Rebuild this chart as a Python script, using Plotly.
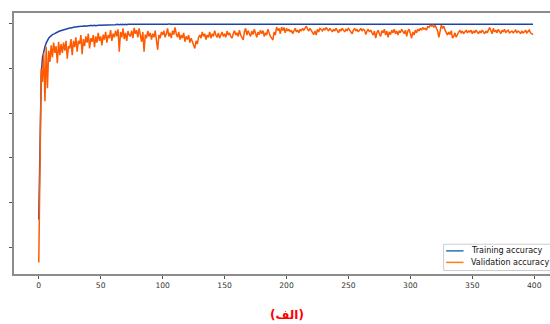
import plotly.graph_objects as go

epochs = list(range(400))

training_accuracy = [
    0.562, 0.790, 0.886, 0.925, 0.940, 0.949, 0.957, 0.963, 0.968, 0.971,
    0.974, 0.976, 0.977, 0.979, 0.980, 0.982, 0.983, 0.984, 0.985, 0.986,
    0.987, 0.988, 0.989, 0.990, 0.990, 0.991, 0.991, 0.992, 0.992, 0.993,
    0.993, 0.994, 0.994, 0.994, 0.995, 0.995, 0.995, 0.996, 0.995, 0.996,
    0.996, 0.996, 0.997, 0.996, 0.997, 0.997, 0.996, 0.997, 0.997, 0.997,
    0.997, 0.998, 0.997, 0.998, 0.997, 0.998, 0.998, 0.997, 0.998, 0.998,
    0.998, 0.998, 0.998, 0.999, 0.998, 0.998, 0.999, 0.998, 0.999, 0.998,
    0.999, 0.998, 0.999, 0.999, 0.998, 0.999, 0.999, 0.998, 0.999, 0.999,
    0.999, 0.999, 0.998, 0.999, 0.999, 0.999, 0.999, 0.998, 0.999, 0.999,
    0.999, 0.999, 0.999, 0.999, 0.998, 0.999, 0.999, 0.999, 0.999, 0.999,
    0.999, 0.999, 0.999, 0.999, 0.999, 1.000, 0.999, 0.999, 0.999, 0.999,
    0.999, 0.999, 0.999, 1.000, 0.999, 0.999, 0.999, 0.999, 0.999, 0.999,
    0.999, 0.999, 0.999, 0.999, 0.999, 0.999, 1.000, 0.999, 0.999, 0.999,
    0.999, 0.999, 0.999, 0.999, 0.999, 0.999, 0.999, 0.999, 1.000, 0.999,
    0.999, 0.999, 0.999, 0.999, 0.999, 0.999, 0.999, 0.999, 0.999, 0.999,
    0.999, 1.000, 0.999, 0.999, 0.999, 0.999, 0.999, 0.999, 0.999, 0.999,
    0.999, 0.999, 0.999, 0.999, 0.999, 1.000, 0.999, 0.999, 0.999, 0.999,
    0.999, 0.999, 0.999, 0.999, 0.999, 0.999, 0.999, 0.999, 0.999, 1.000,
    0.999, 0.999, 0.999, 0.999, 0.999, 0.999, 0.999, 0.999, 0.999, 0.999,
    1.000, 0.999, 0.999, 0.999, 0.999, 0.999, 0.999, 0.999, 0.999, 0.999,
    0.999, 0.999, 0.999, 1.000, 0.999, 0.999, 0.999, 0.999, 0.999, 0.999,
    0.999, 0.999, 0.999, 0.999, 0.999, 0.999, 1.000, 0.999, 0.999, 0.999,
    0.999, 0.999, 0.999, 0.999, 0.999, 0.999, 0.999, 0.999, 0.999, 1.000,
    0.999, 0.999, 0.999, 0.999, 0.999, 0.999, 0.999, 0.999, 0.999, 0.999,
    0.999, 1.000, 0.999, 0.999, 0.999, 0.999, 0.999, 0.999, 0.999, 0.999,
    0.999, 0.999, 0.999, 0.999, 1.000, 0.999, 0.999, 0.999, 0.999, 0.999,
    0.999, 0.999, 0.999, 0.999, 0.999, 0.999, 0.999, 1.000, 0.999, 0.999,
    0.999, 0.999, 0.999, 0.999, 0.999, 0.999, 0.999, 0.999, 0.999, 0.999,
    1.000, 0.999, 0.999, 0.999, 0.999, 0.999, 0.999, 0.999, 0.999, 0.999,
    0.999, 0.999, 0.999, 1.000, 0.999, 0.999, 0.999, 0.999, 0.999, 0.999,
    0.999, 0.999, 0.999, 0.999, 0.999, 0.999, 1.000, 0.999, 0.999, 0.999,
    0.999, 0.999, 0.999, 0.999, 0.999, 0.999, 0.999, 0.999, 0.999, 1.000,
    0.999, 0.999, 0.999, 0.999, 0.999, 0.999, 0.999, 0.999, 0.999, 0.999,
    0.999, 1.000, 0.999, 0.999, 0.999, 0.999, 0.999, 0.999, 0.999, 0.999,
    0.999, 0.999, 0.999, 0.999, 1.000, 0.999, 0.999, 0.999, 0.999, 0.999,
    0.999, 0.999, 0.999, 0.999, 0.999, 0.999, 0.999, 1.000, 0.999, 0.999,
    0.999, 0.999, 0.999, 0.999, 0.999, 0.999, 0.999, 0.999, 0.999, 0.999,
    1.000, 0.999, 0.999, 0.999, 0.999, 0.999, 0.999, 0.999, 0.999, 0.999,
    0.999, 0.999, 0.999, 1.000, 0.999, 0.999, 0.999, 0.999, 0.999, 0.999,
    0.999, 0.999, 0.999, 0.999, 0.999, 0.999, 1.000, 0.999, 0.999, 0.999,
]

validation_accuracy = [
    0.466, 0.749, 0.900, 0.870, 0.935, 0.827, 0.949, 0.856, 0.940, 0.915,
    0.952, 0.925, 0.958, 0.935, 0.950, 0.912, 0.960, 0.930, 0.955, 0.935,
    0.958, 0.940, 0.962, 0.922, 0.950, 0.945, 0.966, 0.930, 0.962, 0.948,
    0.970, 0.938, 0.962, 0.955, 0.975, 0.932, 0.966, 0.950, 0.972, 0.958,
    0.978, 0.945, 0.968, 0.960, 0.975, 0.948, 0.972, 0.958, 0.980, 0.962,
    0.972, 0.952, 0.976, 0.965, 0.982, 0.958, 0.975, 0.968, 0.986, 0.962,
    0.978, 0.970, 0.985, 0.972, 0.988, 0.938, 0.982, 0.970, 0.990, 0.966,
    0.980, 0.962, 0.984, 0.975, 0.972, 0.985, 0.968, 0.991, 0.978, 0.986,
    0.970, 0.990, 0.975, 0.960, 0.982, 0.938, 0.976, 0.968, 0.984, 0.972,
    0.980, 0.965, 0.978, 0.970, 0.985, 0.960, 0.942, 0.975, 0.968, 0.982,
    0.975, 0.985, 0.970, 0.978, 0.990, 0.972, 0.980, 0.968, 0.985, 0.976,
    0.992, 0.978, 0.970, 0.982, 0.965, 0.975, 0.968, 0.980, 0.960, 0.972,
    0.965, 0.975, 0.958, 0.968, 0.960, 0.950, 0.945, 0.962, 0.955, 0.970,
    0.975, 0.968, 0.982, 0.972, 0.978, 0.965, 0.975, 0.970, 0.982, 0.968,
    0.978, 0.972, 0.985, 0.975, 0.970, 0.980, 0.968, 0.975, 0.982, 0.972,
    0.978, 0.970, 0.984, 0.975, 0.980, 0.972, 0.968, 0.978, 0.985, 0.975,
    0.980, 0.972, 0.986, 0.975, 0.970, 0.964, 0.982, 0.990, 0.975, 0.985,
    0.978, 0.972, 0.984, 0.976, 0.988, 0.975, 0.970, 0.982, 0.976, 0.986,
    0.978, 0.985, 0.972, 0.980, 0.975, 0.988, 0.978, 0.972, 0.968, 0.964,
    0.982, 0.975, 0.993, 0.985, 0.990, 0.978, 0.993, 0.985, 0.992, 0.980,
    0.990, 0.984, 0.988, 0.982, 0.986, 0.978, 0.984, 0.990, 0.982, 0.986,
    0.980, 0.988, 0.984, 0.990, 0.986, 0.992, 0.995, 0.988, 0.984, 0.990,
    0.985, 0.980, 0.976, 0.984, 0.975, 0.988, 0.982, 0.990, 0.986, 0.984,
    0.990, 0.986, 0.992, 0.988, 0.984, 0.990, 0.986, 0.982, 0.988, 0.984,
    0.990, 0.986, 0.980, 0.988, 0.984, 0.990, 0.986, 0.982, 0.988, 0.985,
    0.990, 0.986, 0.984, 0.978, 0.986, 0.990, 0.984, 0.988, 0.982, 0.986,
    0.990, 0.984, 0.988, 0.986, 0.976, 0.984, 0.988, 0.982, 0.986, 0.980,
    0.975, 0.984, 0.968, 0.980, 0.986, 0.978, 0.972, 0.985, 0.980, 0.988,
    0.975, 0.984, 0.970, 0.982, 0.976, 0.986, 0.980, 0.988, 0.978, 0.984,
    0.975, 0.985, 0.980, 0.988, 0.984, 0.978, 0.986, 0.972, 0.984, 0.988,
    0.978, 0.968, 0.982, 0.975, 0.986, 0.980, 0.988, 0.984, 0.990, 0.986,
    0.992, 0.988, 0.990, 0.986, 0.994, 0.992, 0.997, 0.995, 0.997, 0.992,
    0.997, 0.990, 0.984, 0.970, 0.988, 0.997, 0.990, 0.995, 0.986, 0.980,
    0.975, 0.982, 0.976, 0.985, 0.968, 0.972, 0.980, 0.970, 0.978, 0.982,
    0.985, 0.980, 0.984, 0.978, 0.982, 0.986, 0.980, 0.984, 0.982, 0.986,
    0.978, 0.984, 0.980, 0.986, 0.982, 0.978, 0.984, 0.980, 0.986, 0.982,
    0.978, 0.984, 0.980, 0.986, 0.992, 0.985, 0.978, 0.990, 0.982, 0.986,
    0.980, 0.988, 0.982, 0.978, 0.986, 0.982, 0.988, 0.980, 0.984, 0.986,
    0.980, 0.982, 0.984, 0.980, 0.982, 0.986, 0.980, 0.984, 0.982, 0.978,
    0.984, 0.980, 0.982, 0.986, 0.980, 0.982, 0.986, 0.980, 0.978, 0.976,
]

series_names = ["Training accuracy", "Validation accuracy"]
x_ticks = [0, 50, 100, 150, 200, 250, 300, 350, 400]
y_ticks = [0.5, 0.6, 0.7, 0.8, 0.9, 1.0]
caption = "(الف)"

line_colors = ["#1d45a6", "#ff5a00"]
legend_colors = ["#1f77b4", "#ff7f0e"]

# plot area in pixels (figure is wider than the 550px window, right side cropped like the reference)
PL, PT, PW, PH = 11, 11, 548, 263


def px_x(p):
    return (p - PL) / PW


def px_y(p):
    return (PT + PH - p) / PH


fig = go.Figure()
for name, ys, lc in zip(series_names, [training_accuracy, validation_accuracy], line_colors):
    fig.add_trace(go.Scatter(x=epochs, y=ys, mode="lines", name=name,
                             line=dict(color=lc, width=1.5), showlegend=False))

axis_line = "#8c8c8c"
fig.update_layout(
    width=640, height=324,
    margin=dict(l=PL, r=640 - PL - PW, t=PT, b=324 - PT - PH),
    paper_bgcolor="white", plot_bgcolor="white",
    font=dict(family="DejaVu Sans", size=7.6, color="#333333"),
    xaxis=dict(range=[-20, 420], tickvals=x_ticks, showgrid=False, zeroline=False,
               showline=True, linecolor=axis_line, linewidth=1.5, mirror=True,
               ticks="outside", ticklen=3, tickcolor="#555555",
               tickfont=dict(size=7.6, color="#333333")),
    yaxis=dict(range=[0.44, 1.0244], tickvals=y_ticks, ticktext=[""] * len(y_ticks),
               showgrid=False, zeroline=False, showline=True, linecolor=axis_line,
               linewidth=1.5, mirror=True, ticks="outside", ticklen=3, tickcolor="#555555"),
    showlegend=False,
)

# legend box (lower right, like the reference)
fig.add_shape(type="rect", xref="paper", yref="paper",
              x0=px_x(443), x1=px_x(600), y0=px_y(270.5), y1=px_y(244),
              line=dict(color="#cccccc", width=1), fillcolor="rgba(255,255,255,0.85)",
              layer="above")
for i, (name, lc) in enumerate(zip(series_names, legend_colors)):
    yy = px_y(250.7 + i * 11.6)
    fig.add_shape(type="line", xref="paper", yref="paper",
                  x0=px_x(445.5), x1=px_x(463), y0=yy, y1=yy,
                  line=dict(color=lc, width=1.5), layer="above")
    fig.add_annotation(text=name, x=px_x(468.5), y=yy, xref="paper", yref="paper",
                       xanchor="left", yanchor="middle", showarrow=False,
                       font=dict(size=8, color="#111111", family="DejaVu Sans"))

fig.add_annotation(text="<b>" + caption + "</b>", x=px_x(285), y=-0.156,
                   xref="paper", yref="paper",
                   xanchor="center", yanchor="middle", showarrow=False,
                   font=dict(size=12, color="#ff0000", family="DejaVu Sans"))

fig.write_html(
    "out.html",
    config={"displayModeBar": False},
    post_script="document.body.style.margin='0';document.body.style.overflow='hidden';"
                "document.documentElement.style.overflow='hidden';",
)
